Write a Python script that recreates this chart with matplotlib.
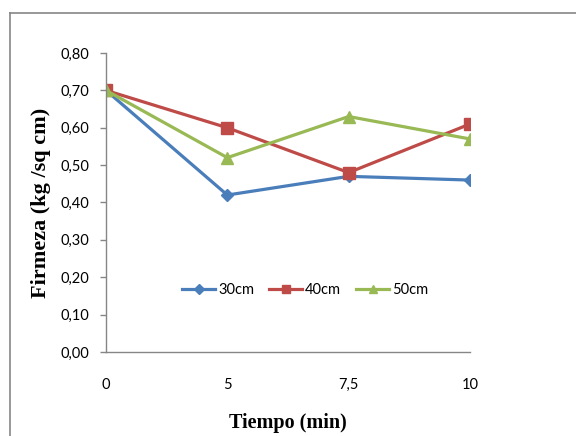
import matplotlib
matplotlib.use("Agg")
import matplotlib.pyplot as plt
from matplotlib.lines import Line2D

categories = ["0", "5", "7,5", "10"]
series_names = ["30cm", "40cm", "50cm"]
s30 = [0.70, 0.42, 0.47, 0.46]
s40 = [0.70, 0.60, 0.48, 0.61]
s50 = [0.70, 0.52, 0.63, 0.57]
yticks = [0.0, 0.1, 0.2, 0.3, 0.4, 0.5, 0.6, 0.7, 0.8]
ytick_labels = ["0,00", "0,10", "0,20", "0,30", "0,40", "0,50", "0,60", "0,70", "0,80"]

colors = ["#4A7EBB", "#BE4B48", "#98B954"]
markers = ["D", "s", "^"]
msizes = [6, 8, 8]

fig = plt.figure(figsize=(5.76, 4.36), dpi=100)
ax = fig.add_axes([106/576, 1-352/436, (470-106)/576, (352-53)/436])

x = list(range(len(categories)))
for vals, name, c, m, ms in zip([s30, s40, s50], series_names, colors, markers, msizes):
    ax.plot(x, vals, color=c, lw=2.3, marker=m, markersize=ms, label=name,
            markeredgecolor=c, markerfacecolor=c)

ax.set_xlim(0, 3)
ax.set_ylim(0, 0.8)
ax.set_xticks(x)
ax.set_xticklabels(categories)
ax.set_yticks(yticks)
ax.set_yticklabels(ytick_labels)

for lab in ax.get_xticklabels() + ax.get_yticklabels():
    lab.set_fontfamily(["Lato", "DejaVu Sans"])
    lab.set_fontsize(10.5)
    lab.set_color("#000000")

ax.tick_params(axis="x", length=0, pad=19)
ax.tick_params(axis="y", length=4, width=1, color="#868686", direction="out", pad=8)

for s in ["top", "right"]:
    ax.spines[s].set_visible(False)
for s in ["left", "bottom"]:
    ax.spines[s].set_color("#868686")
    ax.spines[s].set_linewidth(1)

ax.set_ylabel("Firmeza (kg /sq cm)", fontfamily="Liberation Serif", fontweight="bold",
              fontsize=16, labelpad=7)
ax.set_xlabel("Tiempo (min)", fontfamily="Liberation Serif", fontweight="bold",
              fontsize=14.5, labelpad=15)

leg = ax.legend(loc="center", bbox_to_anchor=(0.547, 0.207), ncol=3, frameon=False,
                prop={"family": ["Lato", "DejaVu Sans"], "size": 10.5},
                handlelength=2.3, columnspacing=1.0, handletextpad=0.2, markerscale=0.8)

fig.add_artist(Line2D([10/576, 10/576], [0, 1-13/436], color="#868686", lw=1.2,
                      transform=fig.transFigure))
fig.add_artist(Line2D([10/576, 1], [1-13/436, 1-13/436], color="#868686", lw=1.2,
                      transform=fig.transFigure))

fig.savefig("out.png", dpi=100)
